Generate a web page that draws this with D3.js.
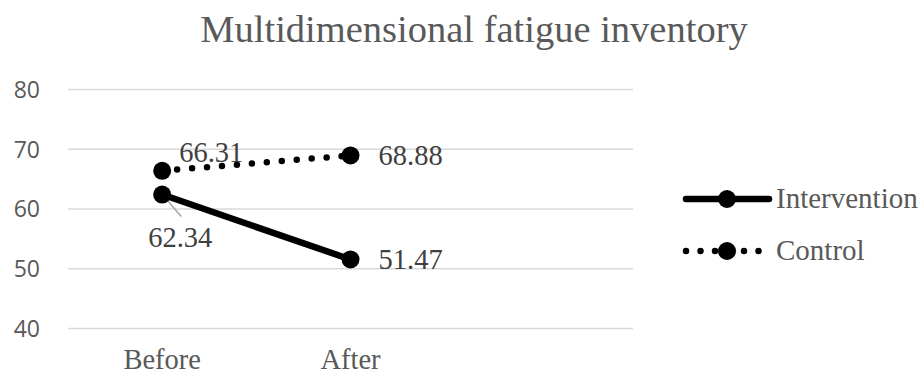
<!DOCTYPE html>
<html>
<head>
<meta charset="utf-8">
<script src="https://cdn.jsdelivr.net/npm/d3@7"></script>
<style>
  body { margin: 0; background: #fff; }
  svg { display: block; }
</style>
</head>
<body>
<div class="chart"></div>
<script>
// 資料
const categories = ["Before", "After", ""]; // 第三格是空的 (Excel 留下的空類別)
const interventionValues = [62.34, 51.47];
const controlValues = [66.31, 68.88];
const yTicks = [40, 50, 60, 70, 80];
const seriesNames = ["Intervention", "Control"];

const width = 922, height = 375;
const plot = { left: 68, right: 633, top: 89, bottom: 328 };
const serif = "Liberation Serif, Times New Roman, serif";

const svg = d3.select(".chart").append("svg")
  .attr("width", width).attr("height", height);

const x = d3.scaleBand().domain(categories).range([plot.left, plot.right]);
const y = d3.scaleLinear().domain([40, 80]).range([plot.bottom, plot.top]);
const cx = d => x(d) + x.bandwidth() / 2;

// 標題
svg.append("text")
  .attr("x", 474).attr("y", 42)
  .attr("text-anchor", "middle")
  .style("font-family", serif)
  .style("font-size", "38.5px")
  .style("fill", "#595959")
  .text("Multidimensional fatigue inventory");

// 格線 + y 軸
const yAxis = d3.axisLeft(y).tickValues(yTicks).tickSize(-(plot.right - plot.left)).tickPadding(28);
const yG = svg.append("g").attr("transform", `translate(${plot.left},0)`).call(yAxis);
yG.select(".domain").remove();
yG.selectAll(".tick line").attr("stroke", "#d9d9d9").attr("stroke-width", 1.5);
yG.selectAll(".tick text")
  .attr("dy", "0.36em")
  .style("font-family", "Open Sans, sans-serif")
  .style("font-size", "23px")
  .style("fill", "#595959");

// x 軸
const xAxis = d3.axisBottom(x).tickSize(0).tickPadding(0);
const xG = svg.append("g").attr("transform", `translate(0,${plot.bottom})`).call(xAxis);
xG.select(".domain").remove();
xG.selectAll(".tick text")
  .attr("dy", 0).attr("y", 41)
  .style("font-family", serif)
  .style("font-size", "28.5px")
  .style("fill", "#595959");

const line = d3.line().x((d, i) => cx(categories[i])).y(d => y(d));

// Intervention
svg.append("path").datum(interventionValues)
  .attr("d", line).attr("fill", "none")
  .attr("stroke", "#000").attr("stroke-width", 6.5).attr("stroke-linecap", "round");
// Control (dotted)
svg.append("path").datum(controlValues)
  .attr("d", line).attr("fill", "none")
  .attr("stroke", "#000").attr("stroke-width", 6.5)
  .attr("stroke-linecap", "round").attr("stroke-dasharray", "0,15");

// leader line for 62.34
svg.append("line")
  .attr("x1", cx(categories[0]) + 2).attr("y1", y(interventionValues[0]) + 2)
  .attr("x2", cx(categories[0]) + 19).attr("y2", y(interventionValues[0]) + 22)
  .attr("stroke", "#a6a6a6").attr("stroke-width", 1.5);

[interventionValues, controlValues].forEach(vals => {
  svg.selectAll(null).data(vals).enter().append("circle")
    .attr("cx", (d, i) => cx(categories[i])).attr("cy", d => y(d))
    .attr("r", 9).attr("fill", "#000");
});

// 資料標籤
const labels = [
  { v: interventionValues[0], c: categories[0], dx: -14, dy: 52 },
  { v: interventionValues[1], c: categories[1], dx: 28, dy: 10 },
  { v: controlValues[0], c: categories[0], dx: 17, dy: -9 },
  { v: controlValues[1], c: categories[1], dx: 28, dy: 10 }
];
labels.forEach(l => {
  svg.append("text")
    .attr("x", cx(l.c) + l.dx).attr("y", y(l.v) + l.dy)
    .style("font-family", serif)
    .style("font-size", "28.5px")
    .style("fill", "#404040")
    .text(l.v.toFixed(2));
});

// 圖例
const legend = svg.append("g");
seriesNames.forEach((name, i) => {
  const ly = 199 + i * 52;
  legend.append("line")
    .attr("x1", 686).attr("x2", i === 1 ? 761 : 769).attr("y1", ly).attr("y2", ly)
    .attr("stroke", "#000").attr("stroke-width", 6.5).attr("stroke-linecap", "round")
    .attr("stroke-dasharray", i === 1 ? "0,14.5" : null);
  legend.append("circle").attr("cx", 727).attr("cy", ly).attr("r", 9).attr("fill", "#000");
  legend.append("text")
    .attr("x", 776).attr("y", ly + 9)
    .style("font-family", serif)
    .style("font-size", "29px")
    .style("fill", "#595959")
    .text(name);
});
</script>
</body>
</html>
